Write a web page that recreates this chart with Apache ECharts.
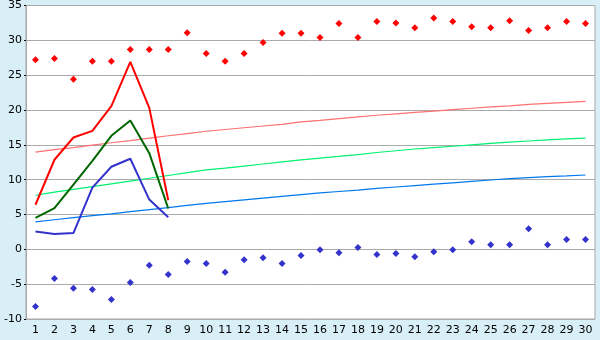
<!DOCTYPE html>
<html><head><meta charset="utf-8">
<script src="https://cdn.jsdelivr.net/npm/echarts@6/dist/echarts.min.js"></script>
<style>html,body{margin:0;padding:0;background:#d9eff7;}#c{width:600px;height:340px;}</style>
</head><body><div id="c"></div>
<script>
var days = ['1','2','3','4','5','6','7','8','9','10','11','12','13','14','15','16','17','18','19','20','21','22','23','24','25','26','27','28','29','30'];
var recMax = [27.2,27.4,24.4,27.0,27.0,28.7,28.7,28.7,31.1,28.1,27.0,28.1,29.7,31.0,31.0,30.4,32.4,30.4,32.7,32.5,31.8,33.2,32.7,31.95,31.8,32.8,31.4,31.8,32.7,32.4];
var recMin = [-8.2,-4.2,-5.6,-5.75,-7.2,-4.75,-2.3,-3.6,-1.75,-2.05,-3.3,-1.5,-1.2,-2.05,-0.9,-0.05,-0.5,0.25,-0.75,-0.6,-1.05,-0.35,-0.05,1.1,0.65,0.65,2.95,0.65,1.4,1.4];
var curMax = [6.4,12.86,16.05,17.0,20.55,26.9,20.3,7.05];
var curMean = [4.52,5.9,9.3,12.7,16.3,18.5,13.8,5.86];
var curMin = [2.57,2.19,2.33,8.85,11.85,13.0,7.14,4.62];
var normMax = [13.95,14.3,14.6,14.95,15.3,15.6,15.95,16.3,16.6,16.95,17.2,17.45,17.7,17.95,18.3,18.5,18.75,19.0,19.25,19.45,19.65,19.85,20.05,20.25,20.45,20.6,20.8,20.95,21.1,21.24];
var normMean = [7.76,8.2,8.6,9.0,9.4,9.8,10.2,10.6,11.0,11.4,11.65,11.95,12.25,12.55,12.85,13.1,13.35,13.6,13.9,14.15,14.4,14.6,14.8,15.0,15.2,15.4,15.55,15.7,15.85,15.95];
var normMin = [3.95,4.25,4.55,4.85,5.1,5.4,5.7,6.0,6.3,6.6,6.85,7.1,7.35,7.6,7.85,8.1,8.3,8.5,8.75,8.95,9.15,9.35,9.55,9.75,9.95,10.15,10.3,10.45,10.55,10.67];

var chart = echarts.init(document.getElementById('c'), null, {renderer:'canvas'});
var font = 'DejaVu Sans';
function line(data, color, w){
  return {type:'line', data:data, symbol:'none', lineStyle:{color:color, width:w, opacity:1}, itemStyle:{color:color}, animation:false, z: w>1.5?5:3};
}
function pts(data, color){
  return {type:'scatter', data:data, symbol:'diamond', symbolSize:7, itemStyle:{color:color, opacity:1}, animation:false, z:6};
}
chart.setOption({
  backgroundColor:'#d9eff7',
  animation:false,
  grid:{left:26, right:5, top:5, bottom:21, show:true, backgroundColor:'#ffffff', borderColor:'#a8a8a8', borderWidth:1},
  xAxis:{type:'category', data:days, boundaryGap:true,
    axisLine:{lineStyle:{color:'#a8a8a8', width:1}},
    axisTick:{alignWithLabel:true, length:4, lineStyle:{color:'#000'}},
    axisLabel:{color:'#000', fontFamily:font, fontSize:11, margin:6, interval:0},
    splitLine:{show:false}},
  yAxis:{type:'value', min:-10, max:35, interval:5,
    axisLine:{show:true, lineStyle:{color:'#a8a8a8'}},
    axisTick:{show:true, length:2, lineStyle:{color:'#000'}},
    axisLabel:{color:'#000', fontFamily:font, fontSize:11, margin:4},
    splitLine:{lineStyle:{color:'#aaaaaa', width:1}}},
  series:[
    line(normMax,'#ff7070',1.2),
    line(normMean,'#00f070',1.2),
    line(normMin,'#0078f0',1.2),
    line(curMax,'#ff0000',2),
    line(curMean,'#006600',2),
    line(curMin,'#3333cc',2),
    pts(recMax,'#ff0000'),
    pts(recMin,'#3333cc')
  ]
});
</script></body></html>
